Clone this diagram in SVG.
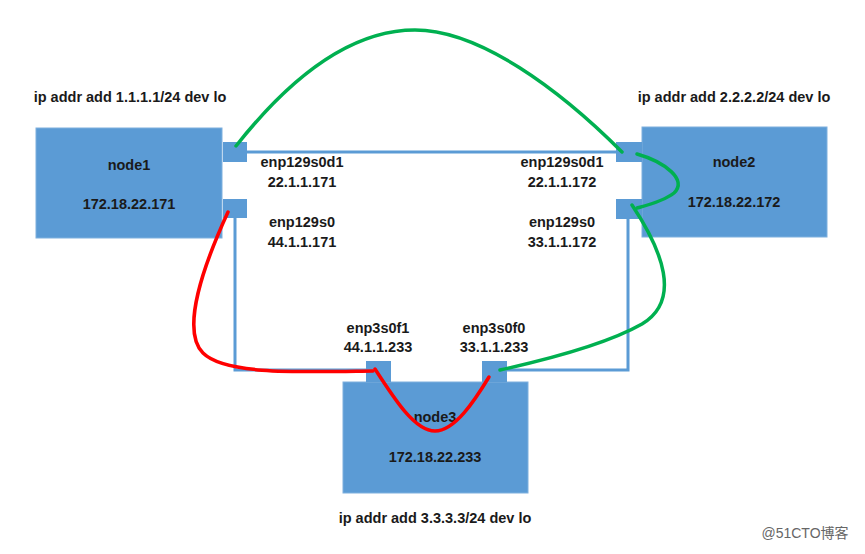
<svg xmlns="http://www.w3.org/2000/svg" width="865" height="554" viewBox="0 0 865 554">
<style>
.box{fill:#5B9BD5;stroke:#7FB0DE;stroke-width:1}
.port{fill:#5B9BD5}
.link{fill:none;stroke:#5B9BD5;stroke-width:3}
.g{fill:none;stroke:#00B050;stroke-width:3.5;stroke-linecap:round}
.r{fill:none;stroke:#FF0000;stroke-width:3.5;stroke-linecap:round}
text{font-family:"Liberation Sans",Arial,sans-serif;font-weight:bold;fill:#1a1a1a;text-anchor:middle}
.t{font-size:14.5px}
.l{font-size:14.5px}
.wm{font-family:"Liberation Sans","Noto Sans CJK SC",sans-serif;font-weight:normal;fill:#666;font-size:14px}
</style>
<rect width="865" height="554" fill="#fff"/>
<g id="links">
<polyline class="link" points="247,152 616,152"/>
<polyline class="link" points="235,218 235,370 367,370"/>
<polyline class="link" points="628,219 628,370 507,370"/>
</g>
<g id="node1">
<rect class="box" x="36" y="128" width="186" height="110"/>
<rect class="port" x="223" y="142" width="24" height="20"/>
<rect class="port" x="223" y="199" width="24" height="19"/>
<text class="l" x="129" y="170">node1</text>
<text class="l" x="129" y="209">172.18.22.171</text>
<text class="t" x="130" y="102">ip addr add 1.1.1.1/24 dev lo</text>
</g>
<g id="node2">
<rect class="box" x="642" y="127" width="185" height="110"/>
<rect class="port" x="616" y="142" width="26" height="20"/>
<rect class="port" x="616" y="199" width="26" height="20"/>
<text class="l" x="734" y="167">node2</text>
<text class="l" x="734" y="207">172.18.22.172</text>
<text class="t" x="734" y="102">ip addr add 2.2.2.2/24 dev lo</text>
</g>
<g id="node3">
<rect class="box" x="343" y="382" width="185" height="111"/>
<rect class="port" x="366" y="361" width="25" height="21"/>
<rect class="port" x="482" y="361" width="25" height="21"/>
<text class="l" x="435" y="422">node3</text>
<text class="l" x="435" y="462">172.18.22.233</text>
<text class="t" x="435" y="523">ip addr add 3.3.3.3/24 dev lo</text>
</g>
<g id="labels">
<text class="l" x="302" y="167">enp129s0d1</text>
<text class="l" x="302" y="187">22.1.1.171</text>
<text class="l" x="302" y="227">enp129s0</text>
<text class="l" x="302" y="247">44.1.1.171</text>
<text class="l" x="562" y="167">enp129s0d1</text>
<text class="l" x="562" y="187">22.1.1.172</text>
<text class="l" x="562" y="227">enp129s0</text>
<text class="l" x="562" y="247">33.1.1.172</text>
<text class="l" x="378" y="333">enp3s0f1</text>
<text class="l" x="378" y="352">44.1.1.233</text>
<text class="l" x="494" y="333">enp3s0f0</text>
<text class="l" x="494" y="352">33.1.1.233</text>
</g>
<g id="paths">
<path class="g" d="M236,146 C300,65 360,30 415,30 C480,30 560,90 622,152"/>
<path class="g" d="M637,154 C665,162 688,180 674,193 C664,201 648,205 637,208"/>
<path class="g" d="M632,205 C662,250 682,300 642,324 C605,345 545,360 500,370"/>
<path class="r" d="M228,212 C205,262 180,330 203,353 C225,375 300,372 373,371"/>
<path class="r" d="M375,369 C395,400 415,431 435,431 C455,431 475,400 489,377"/>
</g>
<text class="wm" x="805" y="538">@51CTO博客</text>
</svg>
